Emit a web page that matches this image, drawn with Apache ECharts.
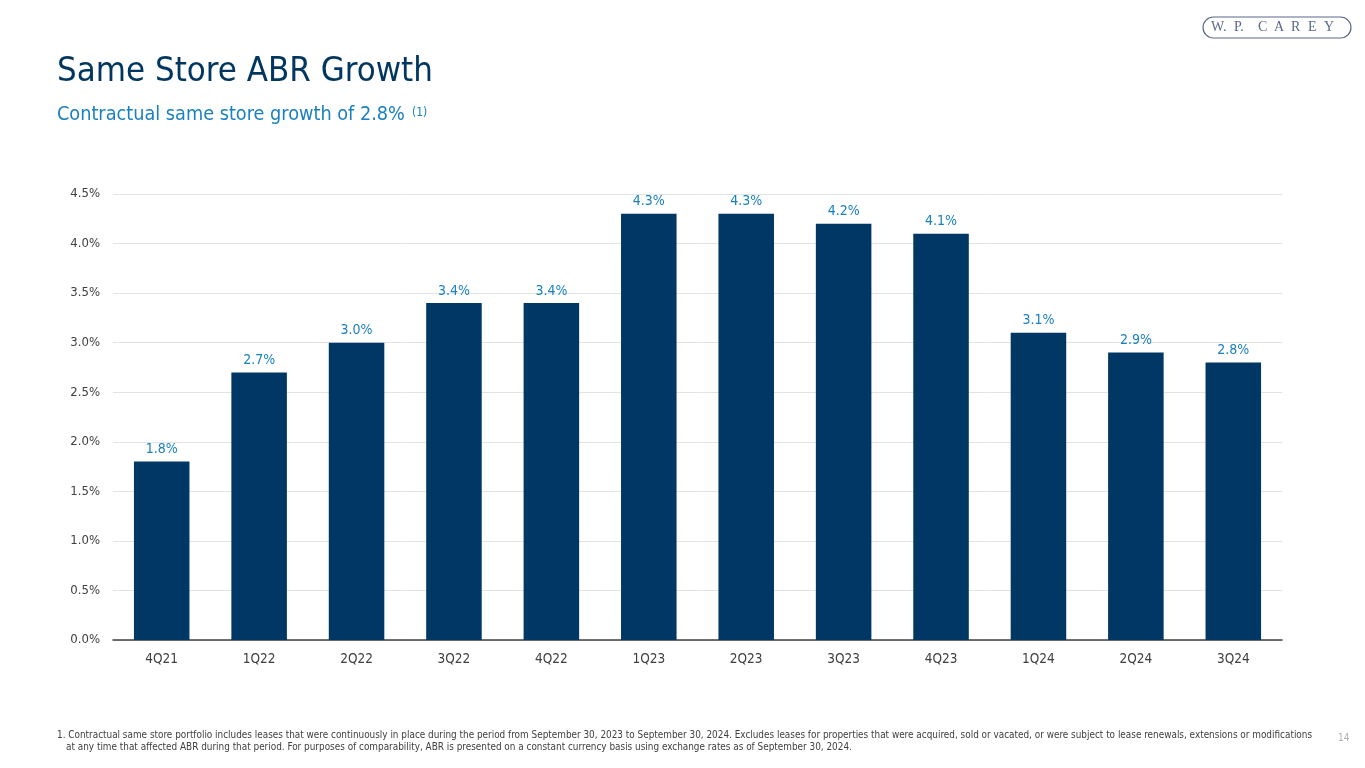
<!DOCTYPE html>
<html>
<head>
<meta charset="utf-8">
<script src="https://cdn.jsdelivr.net/npm/echarts@6/dist/echarts.min.js"></script>
<style>
html,body{margin:0;padding:0;background:#fff;}
#chart{width:1365px;height:768px;}
</style>
</head>
<body>
<div id="chart"></div>
<script>
const categories = ['4Q21','1Q22','2Q22','3Q22','4Q22','1Q23','2Q23','3Q23','4Q23','1Q24','2Q24','3Q24'];
const growthValues = [1.8, 2.7, 3.0, 3.4, 3.4, 4.3, 4.3, 4.2, 4.1, 3.1, 2.9, 2.8];
const yTicks = [0, 0.5, 1.0, 1.5, 2.0, 2.5, 3.0, 3.5, 4.0, 4.5];

const titleText = 'Same Store ABR Growth';
const subtitleText = 'Contractual same store growth of 2.8%';
const footLine1 = '1. Contractual same store portfolio includes leases that were continuously in place during the period from September 30, 2023 to September 30, 2024. Excludes leases for properties that were acquired, sold or vacated, or were subject to lease renewals, extensions or modifications';
const footLine2 = 'at any time that affected ABR during that period. For purposes of comparability, ABR is presented on a constant currency basis using exchange rates as of September 30, 2024.';
const logoLetters = [['W.', 1211], ['P.', 1234], ['C', 1258], ['A', 1274], ['R', 1291], ['E', 1308], ['Y', 1324]];

const FONT = '"DejaVu Sans Condensed", "DejaVu Sans", sans-serif';
const logoGraphics = logoLetters.map(([t, x]) => ({
  type: 'text', left: x, top: 20, style: { text: t, font: '14px "Liberation Serif", serif', fill: '#5a6a88' }
}));

const chart = echarts.init(document.getElementById('chart'));
chart.setOption({
  animation: false,
  textStyle: { fontFamily: FONT },
  grid: { left: 113, right: 83, top: 194, bottom: 128, containLabel: false },
  xAxis: {
    type: 'category',
    data: categories,
    axisTick: { show: false },
    axisLine: { lineStyle: { color: '#404040', width: 1.5 } },
    axisLabel: { color: '#404040', fontSize: 13.5, margin: 12, fontFamily: FONT }
  },
  yAxis: {
    type: 'value',
    min: 0, max: 4.5, interval: 0.5,
    axisLine: { show: false },
    axisTick: { show: false },
    splitLine: { lineStyle: { color: '#e3e3e3', width: 1 } },
    axisLabel: { color: '#404040', fontSize: 13, margin: 13, fontFamily: FONT,
      formatter: v => v.toFixed(1) + '%' }
  },
  series: [{
    type: 'bar',
    data: growthValues,
    barWidth: '57%',
    itemStyle: { color: '#003764' },
    label: { show: true, position: 'top', distance: 5, color: '#1a80c0', fontSize: 14, fontFamily: FONT,
      formatter: p => p.value.toFixed(1) + '%' }
  }],
  graphic: [
    { type: 'text', left: 57, top: 55, style: { text: titleText, font: '34.5px ' + FONT, fill: '#00365f' } },
    { type: 'text', left: 57, top: 105, style: { text: subtitleText, font: '19.7px ' + FONT, fill: '#1a80c0' } },
    { type: 'text', left: 412, top: 107, style: { text: '(1)', font: '12px ' + FONT, fill: '#1a80c0' } },
    { type: 'rect', shape: { x: 1203, y: 17, width: 148, height: 21, r: 10.5 }, style: { fill: 'none', stroke: '#5a6a88', lineWidth: 1.2 } },
    ...logoGraphics,
    { type: 'text', left: 57, top: 730, style: { text: footLine1, font: '9.9px ' + FONT, fill: '#404040' } },
    { type: 'text', left: 66, top: 742, style: { text: footLine2, font: '9.9px ' + FONT, fill: '#404040' } },
    { type: 'text', left: 1338, top: 733, style: { text: '14', font: '10px ' + FONT, fill: '#b0b0b0' } }
  ]
});
</script>
</body>
</html>
